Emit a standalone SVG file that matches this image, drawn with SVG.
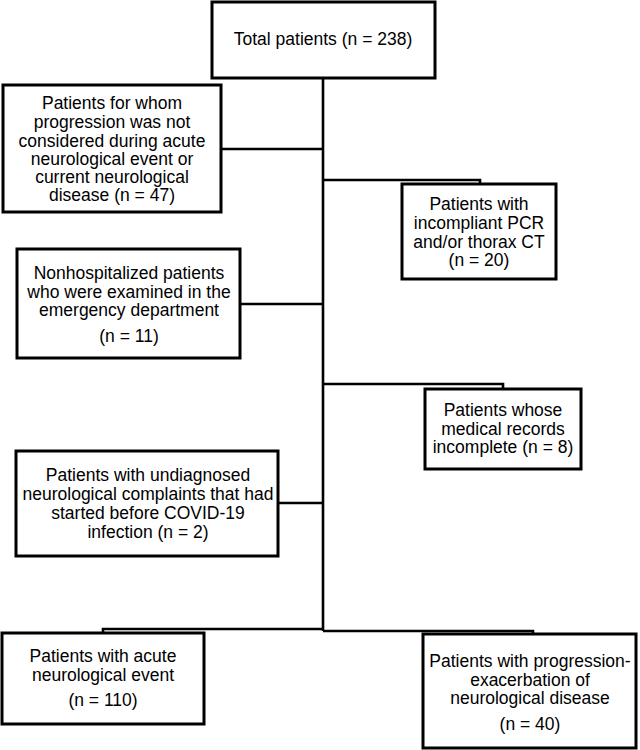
<svg xmlns="http://www.w3.org/2000/svg" width="640" height="750" viewBox="0 0 640 750">
<style>
.box{fill:#fff;stroke:#000;stroke-width:3}
.con{fill:none;stroke:#000;stroke-width:2.6}
text{font-family:"Liberation Sans",Arial,sans-serif;font-size:17.5px;fill:#000;text-anchor:middle}
</style>
<rect width="640" height="750" fill="#fff"/>
<g id="connectors">
<path class="con" d="M323,78 V631"/>
<path class="con" d="M221,149 H323"/>
<path class="con" d="M323,180 H480 V184"/>
<path class="con" d="M240,304 H323"/>
<path class="con" d="M323,384 H503 V389"/>
<path class="con" d="M278,503 H323"/>
<path class="con" d="M103,633 V629 H323"/>
<path class="con" d="M323,631 H533 V634"/>
</g>
<g id="total">
<rect class="box" x="212" y="2" width="223" height="76"/>
<text x="323" y="45">Total patients (n = 238)</text>
</g>
<g id="excl-progression">
<rect class="box" x="3" y="85" width="218" height="127"/>
<text x="112" y="109">Patients for whom</text>
<text x="112" y="128">progression was not</text>
<text x="112" y="147">considered during acute</text>
<text x="112" y="165">neurological event or</text>
<text x="112" y="183">current neurological</text>
<text x="112" y="201">disease (n = 47)</text>
</g>
<g id="excl-pcr">
<rect class="box" x="402" y="184" width="154" height="95"/>
<text x="479" y="210">Patients with</text>
<text x="479" y="229">incompliant PCR</text>
<text x="479" y="248">and/or thorax CT</text>
<text x="479" y="266">(n = 20)</text>
</g>
<g id="excl-nonhosp">
<rect class="box" x="17" y="249" width="223" height="109"/>
<text x="129" y="279">Nonhospitalized patients</text>
<text x="129" y="298">who were examined in the</text>
<text x="129" y="316">emergency department</text>
<text x="129" y="342">(n = 11)</text>
</g>
<g id="excl-records">
<rect class="box" x="425" y="389" width="156" height="80"/>
<text x="503" y="416">Patients whose</text>
<text x="503" y="435">medical records</text>
<text x="503" y="453">incomplete (n = 8)</text>
</g>
<g id="excl-undiagnosed">
<rect class="box" x="16" y="451" width="262" height="105"/>
<text x="148" y="481">Patients with undiagnosed</text>
<text x="148" y="500">neurological complaints that had</text>
<text x="148" y="519">started before COVID-19</text>
<text x="148" y="538">infection (n = 2)</text>
</g>
<g id="acute">
<rect class="box" x="2" y="633" width="202" height="91"/>
<text x="103" y="662">Patients with acute</text>
<text x="103" y="681">neurological event</text>
<text x="103" y="706">(n = 110)</text>
</g>
<g id="progression">
<rect class="box" x="423" y="634" width="213" height="114"/>
<text x="530" y="667">Patients with progression-</text>
<text x="530" y="686">exacerbation of</text>
<text x="530" y="704">neurological disease</text>
<text x="530" y="730">(n = 40)</text>
</g>
</svg>
